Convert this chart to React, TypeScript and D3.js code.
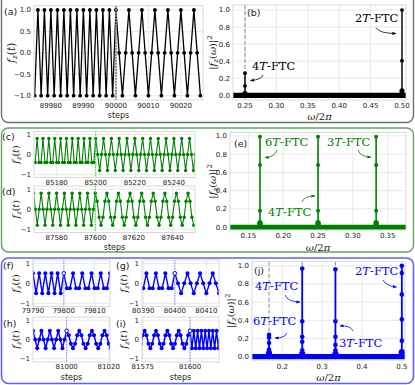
import React from "react";
import * as d3 from "d3";

// ================= DATA =================
// (a) 2T -> 4T
const aStart = 89975;
const aChange = 90000;
const aValues = [
  -1, 1, -1, 1, -1, 1, -1, 1, -1, 1, -1, 1, -1, 1, -1, 1, -1, 1, -1, 1, -1, 1, -1, 1, -1, 1,
  0, -1, 0, 1, 0, -1, 0, 1, 0, -1, 0, 1, 0, -1, 0, 1, 0, -1, 0, 1, 0, -1, 0, 1, 0, -1,
];
const aXTicks = [89980, 89990, 90000, 90010, 90020];
const aYTicks = [-1, -0.5, 0, 0.5, 1];

// (c) 3T -> 4T
const cStart = 85168;
const cChange = 85200;
const cValues = [
  -0.4, -0.4,
  0.8, -0.4, -0.4, 0.8, -0.4, -0.4, 0.8, -0.4, -0.4, 0.8, -0.4, -0.4, 0.8, -0.4, -0.4,
  0.8, -0.4, -0.4, 0.8, -0.4, -0.4, 0.8, -0.4, -0.4, 0.8, -0.4, -0.4, 0.8, -0.4, -0.4,
  0.8,
  0, -0.8, 0, 0.8, 0, -0.8, 0, 0.8, 0, -0.8, 0, 0.8, 0, -0.8, 0, 0.8, 0, -0.8, 0, 0.8, 0, -0.8, 0, 0.8,
  0, -0.8, 0, 0.8, 0, -0.8, 0, 0.8, 0, -0.8, 0, 0.8, 0, -0.8, 0, 0.8, 0, -0.8, 0, 0.8, 0, -0.8, 0, 0.8,
  0, -0.8, 0,
];
const cXTicks = [85180, 85200, 85220, 85240];

// (d) 4T -> 6T
const dStart = 87568;
const dChange = 87600;
const dValues = [
  0.8, 0, -0.8, 0, 0.8, 0, -0.8, 0, 0.8, 0, -0.8, 0, 0.8, 0, -0.8, 0,
  0.8, 0, -0.8, 0, 0.8, 0, -0.8, 0, 0.8, 0, -0.8, 0, 0.8, 0, -0.8, 0,
  0.8,
  0.4, -0.4, -0.8, -0.4, 0.4, 0.8, 0.4, -0.4, -0.8, -0.4, 0.4, 0.8,
  0.4, -0.4, -0.8, -0.4, 0.4, 0.8, 0.4, -0.4, -0.8, -0.4, 0.4, 0.8,
  0.4, -0.4, -0.8, -0.4, 0.4, 0.8, 0.4, -0.4, -0.8, -0.4, 0.4, 0.8,
  0.4, -0.4, -0.8, -0.4, 0.4, 0.8, 0.4, -0.4, -0.8, -0.4, 0.4, 0.8,
  0.4, -0.4, -0.8,
];
const dXTicks = [87580, 87600, 87620, 87640];
const smallYTicks = [-1, 0, 1];

// (f) 2T -> 3T
const fStart = 79790;
const fChange = 79800;
const fValues = [
  0.5, -0.5, 0.5, -0.5, 0.5, -0.5, 0.5, -0.5, 0.5, -0.5, 0.5,
  -0.25, -0.25, 0.5, -0.25, -0.25, 0.5, -0.25, -0.25, 0.5, -0.25, -0.25, 0.5, -0.25, -0.25, 0.5,
];
const fXTicks = [79790, 79800, 79810];

// (g) 3T -> 4T
const gStart = 80389;
const gChange = 80400;
const gValues = [
  -0.25, -0.25, 0.5, -0.25, -0.25, 0.5, -0.25, -0.25, 0.5, -0.25, -0.25, 0.5,
  0, -0.5, 0, 0.5, 0, -0.5, 0, 0.5, 0, -0.5, 0, 0.5, 0, -0.5,
];
const gXTicks = [80390, 80400, 80410];

// (h) 4T -> 6T
const hStart = 80983;
const hChange = 81000;
const hValues = [
  0, 0.45, 0, -0.45, 0, 0.45, 0, -0.45, 0, 0.45, 0, -0.45, 0, 0.45, 0, -0.45, 0, 0.45,
  0.22, -0.22, -0.45, -0.22, 0.22, 0.45, 0.22, -0.22, -0.45, -0.22, 0.22, 0.45,
  0.22, -0.22, -0.45, -0.22, 0.22, 0.45, 0.22, -0.22, -0.45, -0.22,
];
const hXTicks = [81000, 81020];

// (i) 6T -> 2T
const iStart = 81574;
const iChange = 81600;
const iValues = [
  -0.22, 0.22,
  0.45, 0.22, -0.22, -0.45, -0.22, 0.22, 0.45, 0.22, -0.22, -0.45, -0.22, 0.22,
  0.45, 0.22, -0.22, -0.45, -0.22, 0.22, 0.45, 0.22, -0.22, -0.45, -0.22, 0.22,
  0.45,
  -0.45, 0.45, -0.45, 0.45, -0.45, 0.45, -0.45, 0.45, -0.45, 0.45, -0.45, 0.45, -0.45, 0.45, -0.45, 0.45,
];
const iXTicks = [81575, 81600];

// spectra
const specYTicks = [0, 0.2, 0.4, 0.6, 0.8, 1.0];
const bRange = [0.2, 0.52];
const bFreqs = [0.25, 0.5];
const bPeakValues = [[0.02, 0.11, 0.26], [0.02, 0.054, 0.405, 1.0]];
const bDashed = [0.25];
const bXTicks = [0.25, 0.3, 0.35, 0.4, 0.45, 0.5];

const eRange = [0.1, 0.4];
const eFreqs = [1 / 6, 1 / 4, 1 / 3];
const ePeakValues = [
  [0.01, 0.03, 0.05, 0.18, 0.68, 0.99],
  [0.01, 0.03, 0.05, 0.18, 0.68, 0.99],
  [0.01, 0.03, 0.05, 0.18, 0.68, 0.99],
];
const eXTicks = [0.15, 0.2, 0.25, 0.3, 0.35];

const jRange = [0.1, 0.52];
const jFreqs = [1 / 6, 1 / 4, 1 / 3, 1 / 2];
const jPeakValues = [
  [0.02, 0.04, 0.08, 0.15, 0.21, 0.24],
  [0.02, 0.03, 0.07, 0.165, 0.22, 0.39, 0.97],
  [0.02, 0.03, 0.07, 0.13, 0.22, 0.39, 0.96],
  [0.02, 0.03, 0.05, 0.176, 0.41, 0.685, 0.92, 1.0],
];
const jDashed = [1 / 6, 1 / 4, 1 / 3];
const jXTicks = [0.2, 0.3, 0.4, 0.5];

// ================= STYLE =================
const SANS = "DejaVu Sans, sans-serif";
const SERIF = "DejaVu Serif, serif";
const TXT = "#1a1a1a";
const GRID = "#e3e3e3";
const SPINE = "#cfcfcf";
const BLACK = "#000000";
const GREEN = "#008000";
const BLUE = "#0000ff";

type Box = { x0: number; x1: number; y0: number; y1: number };

const fmtMinus = (s: string) => s.replace("-", "\u2212");

function FzLabel({ x, y, size }: { x: number; y: number; size: number }) {
  return (
    <text
      transform={`translate(${x},${y}) rotate(-90)`}
      textAnchor="middle"
      fontFamily={SERIF}
      fontSize={size}
      fill={TXT}
    >
      <tspan fontStyle="italic">f</tspan>
      <tspan fontStyle="italic" fontSize={size * 0.7} dy={size * 0.22}>z</tspan>
      <tspan dy={-size * 0.22}>(</tspan>
      <tspan fontStyle="italic">t</tspan>
      <tspan>)</tspan>
    </text>
  );
}

function SpecYLabel({ x, y, size }: { x: number; y: number; size: number }) {
  return (
    <text
      transform={`translate(${x},${y}) rotate(-90)`}
      textAnchor="middle"
      fontFamily={SERIF}
      fontSize={size}
      fill={TXT}
    >
      <tspan>|</tspan>
      <tspan fontStyle="italic">f</tspan>
      <tspan fontStyle="italic" fontSize={size * 0.7} dy={size * 0.22}>z</tspan>
      <tspan dy={-size * 0.22}>(</tspan>
      <tspan fontStyle="italic">ω</tspan>
      <tspan>)|</tspan>
      <tspan fontSize={size * 0.7} dy={-size * 0.4}>2</tspan>
    </text>
  );
}

function OmegaLabel({ x, y, size }: { x: number; y: number; size: number }) {
  return (
    <text x={x} y={y} textAnchor="middle" fontFamily={SERIF} fontSize={size} fill={TXT}>
      <tspan fontStyle="italic">ω</tspan>
      <tspan>/2</tspan>
      <tspan fontStyle="italic">π</tspan>
    </text>
  );
}

function Frame({ box, x, y, xTicks, yTicks, id }: any) {
  return (
    <g>
      <rect x={box.x0} y={box.y0} width={box.x1 - box.x0} height={box.y1 - box.y0} fill="#ffffff" />
      {xTicks.map((t: number) => (
        <line key={"gx" + t} x1={x(t)} x2={x(t)} y1={box.y0} y2={box.y1} stroke={GRID} strokeWidth={0.8} />
      ))}
      {yTicks.map((t: number) => (
        <line key={"gy" + t} x1={box.x0} x2={box.x1} y1={y(t)} y2={y(t)} stroke={GRID} strokeWidth={0.8} />
      ))}
      <defs>
        <clipPath id={id}>
          <rect x={box.x0} y={box.y0} width={box.x1 - box.x0} height={box.y1 - box.y0} />
        </clipPath>
      </defs>
    </g>
  );
}

function Spines({ box }: { box: Box }) {
  return (
    <rect
      x={box.x0}
      y={box.y0}
      width={box.x1 - box.x0}
      height={box.y1 - box.y0}
      fill="none"
      stroke={SPINE}
      strokeWidth={0.8}
    />
  );
}

function TimeSeries(props: any) {
  const {
    id, box, xDomain, yDomain, yTicks, yFmt, xTicks, start, values, color, change,
    vColor, vDash, vWidth, r, lw, open, label, labelX, labelY, ylabelX, showSteps, stepsY,
    tickSize = 7, ylabSize = 10, xLabOff = 7,
  } = props;
  const x = d3.scaleLinear().domain(xDomain).range([box.x0, box.x1]);
  const y = d3.scaleLinear().domain(yDomain).range([box.y1, box.y0]);
  const pts: [number, number][] = values.map((v: number, i: number) => [start + i, v]);
  const line = d3.line<[number, number]>().x((d) => x(d[0])).y((d) => y(d[1]));
  const changeVal = values[change - start];
  return (
    <g>
      <Frame box={box} x={x} y={y} xTicks={xTicks} yTicks={yTicks} id={id} />
      <g clipPath={`url(#${id})`}>
        <path d={line(pts) || ""} fill="none" stroke={color} strokeWidth={lw} strokeLinejoin="round" />
        {pts.map((p, i) => (
          <circle key={i} cx={x(p[0])} cy={y(p[1])} r={r} fill={color} />
        ))}
        <line
          x1={x(change)} x2={x(change)} y1={box.y0} y2={box.y1}
          stroke={vColor} strokeWidth={vWidth} strokeDasharray={vDash}
        />
        {open && <circle cx={x(change)} cy={y(changeVal)} r={r * 0.9} fill="#ffffff" stroke={color} strokeWidth={0.9} />}
      </g>
      <Spines box={box} />
      {yTicks.map((t: number) => (
        <text key={"ty" + t} x={box.x0 - 3} y={y(t)} dy="0.35em" textAnchor="end" fontFamily={SANS} fontSize={tickSize} fill={TXT}>
          {fmtMinus(yFmt(t))}
        </text>
      ))}
      {xTicks.map((t: number) => (
        <text key={"tx" + t} x={x(t)} y={box.y1 + xLabOff} textAnchor="middle" fontFamily={SANS} fontSize={tickSize} fill={TXT}>
          {t}
        </text>
      ))}
      <FzLabel x={ylabelX} y={(box.y0 + box.y1) / 2} size={ylabSize} />
      {showSteps && (
        <text x={(box.x0 + box.x1) / 2} y={stepsY} textAnchor="middle" fontFamily={SANS} fontSize={8} fill={TXT}>
          steps
        </text>
      )}
      <text x={labelX} y={labelY} fontFamily={SANS} fontSize={9.5} fill={TXT}>{label}</text>
    </g>
  );
}

function Arrow({ d, color, mid }: { d: string; color: string; mid: string }) {
  return <path d={d} fill="none" stroke={color} strokeWidth={0.8} markerEnd={`url(#${mid})`} />;
}

function FTC({ x, y, n, color }: { x: number; y: number; n: string; color: string }) {
  return (
    <text x={x} y={y} fontFamily={SERIF} fontSize={11.5} fill={color}>
      <tspan>{n}</tspan>
      <tspan fontStyle="italic">T</tspan>
      <tspan>-FTC</tspan>
    </text>
  );
}

function Spectrum(props: any) {
  const {
    id, box, xDomain, yDomain, xTicks, xFmt, range, freqs, peaks, dashed, color, r, baseR,
    label, labelX, labelY, ylabelX, omegaY, children, stemW, xLabOff = 8,
  } = props;
  const x = d3.scaleLinear().domain(xDomain).range([box.x0, box.x1]);
  const y = d3.scaleLinear().domain(yDomain).range([box.y1, box.y0]);
  const fmtY = d3.format(".1f");
  return (
    <g>
      <Frame box={box} x={x} y={y} xTicks={xTicks} yTicks={specYTicks} id={id} />
      <g clipPath={`url(#${id})`}>
        {dashed.map((f: number) => (
          <line key={"dl" + f} x1={x(f)} x2={x(f)} y1={box.y0} y2={box.y1} stroke="#8c8c8c" strokeWidth={1} strokeDasharray="4,2" />
        ))}
        <line x1={x(range[0])} x2={x(range[1])} y1={y(0)} y2={y(0)} stroke={color} strokeWidth={baseR * 2} />
        {freqs.map((f: number, k: number) => {
          const vals: number[] = peaks[k];
          const top = d3.max(vals) as number;
          return (
            <g key={"st" + k}>
              <line x1={x(f)} x2={x(f)} y1={y(0)} y2={y(top)} stroke={color} strokeWidth={stemW} />
              {vals.map((v, i) => (
                <circle key={i} cx={x(f)} cy={y(v)} r={v < 0.06 ? r * 1.35 : r} fill={color} />
              ))}
            </g>
          );
        })}
      </g>
      <Spines box={box} />
      {specYTicks.map((t: number) => (
        <text key={"ty" + t} x={box.x0 - 3} y={y(t)} dy="0.35em" textAnchor="end" fontFamily={SANS} fontSize={7} fill={TXT}>
          {fmtY(t)}
        </text>
      ))}
      {xTicks.map((t: number) => (
        <text key={"tx" + t} x={x(t)} y={box.y1 + xLabOff} textAnchor="middle" fontFamily={SANS} fontSize={7} fill={TXT}>
          {xFmt(t)}
        </text>
      ))}
      <SpecYLabel x={ylabelX} y={(box.y0 + box.y1) / 2} size={10} />
      <OmegaLabel x={(box.x0 + box.x1) / 2} y={omegaY} size={10} />
      <text x={labelX} y={labelY} fontFamily={SANS} fontSize={9.5} fill={TXT}>{label}</text>
      {children}
    </g>
  );
}

export default function App() {
  const f1 = d3.format(".1f");
  const f0 = d3.format("d");
  const f2 = d3.format(".2f");
  return (
    <svg width={415} height={385} style={{ position: "absolute", left: 0, top: 0, background: "#fff" }}>
      <defs>
        {[["ahK", BLACK], ["ahG", GREEN], ["ahB", BLUE]].map(([idm, c]) => (
          <marker key={idm} id={idm} viewBox="0 0 10 10" refX="9" refY="5" markerWidth="5" markerHeight="5" orient="auto">
            <path d="M0,1 L10,5 L0,9 z" fill={c} />
          </marker>
        ))}
      </defs>
      <rect x={0} y={0} width={415} height={385} fill="#ffffff" />
      {/* group boxes */}
      <rect x={1.5} y={-10} width={412} height={132.5} rx={7} fill="none" stroke="#6f6f6f" strokeWidth={1.4} />
      <rect x={1.5} y={128} width={412} height={124} rx={7} fill="none" stroke="#5fa55f" strokeWidth={1.4} />
      <rect x={1.5} y={258} width={412} height={125.5} rx={7} fill="none" stroke="#6262f0" strokeWidth={1.6} />

      {/* (a) */}
      <TimeSeries
        id="ca" box={{ x0: 34, x1: 203, y0: 5.7, y1: 100 }} xDomain={[89974.8, 90026.8]} yDomain={[-1.1, 1.1]}
        yTicks={aYTicks} yFmt={f1} xTicks={aXTicks} start={aStart} values={aValues} color={BLACK}
        change={aChange} vColor="#8a8a8a" vDash="2,1" vWidth={2} r={1.9} lw={1.3} open={false}
        label="(a)" labelX={4} labelY={15} ylabelX={15} showSteps stepsY={117.5} ylabSize={10.5} xLabOff={7.5}
      />
      {/* (b) */}
      <Spectrum
        id="cb" box={{ x0: 233, x1: 406, y0: 5, y1: 100 }} xDomain={[0.2309, 0.5064]} yDomain={[-0.055, 1.059]}
        xTicks={bXTicks} xFmt={f2} range={bRange} freqs={bFreqs} peaks={bPeakValues} dashed={bDashed}
        color={BLACK} r={1.9} baseR={2.6} stemW={1.4} label="(b)" labelX={247} labelY={16} ylabelX={215.5} omegaY={120}
        xLabOff={7.5}
      >
        <FTC x={252} y={70} n="4" color={BLACK} />
        <Arrow d="M263,75 Q261,80 250.5,80.5" color={BLACK} mid="ahK" />
        <FTC x={355} y={22} n="2" color={BLACK} />
        <Arrow d="M376,27.5 Q379,33.5 396,33.5" color={BLACK} mid="ahK" />
      </Spectrum>

      {/* (c) */}
      <TimeSeries
        id="cc" box={{ x0: 34, x1: 195, y0: 131.5, y1: 177.5 }} xDomain={[85168.4, 85250.8]} yDomain={[-1.15, 1.15]}
        yTicks={smallYTicks} yFmt={f0} xTicks={cXTicks} start={cStart} values={cValues} color={GREEN}
        change={cChange} vColor="#22dd22" vDash="1.5,1.2" vWidth={1.1} r={1.7} lw={1.1} open={false}
        label="(c)" labelX={2} labelY={140} ylabelX={18.5} showSteps={false} stepsY={0} ylabSize={9.5} xLabOff={7}
      />
      {/* (d) */}
      <TimeSeries
        id="cd" box={{ x0: 34, x1: 195, y0: 186, y1: 232.5 }} xDomain={[87568.3, 87651.6]} yDomain={[-1.16, 1.16]}
        yTicks={smallYTicks} yFmt={f0} xTicks={dXTicks} start={dStart} values={dValues} color={GREEN}
        change={dChange} vColor="#22dd22" vDash="1.5,1.2" vWidth={1.1} r={1.7} lw={1.1} open={false}
        label="(d)" labelX={2} labelY={195} ylabelX={18.5} showSteps stepsY={249.5} ylabSize={9.5} xLabOff={7}
      />
      {/* (e) */}
      <Spectrum
        id="ce" box={{ x0: 230, x1: 406, y0: 132.7, y1: 230 }} xDomain={[0.1237, 0.3762]} yDomain={[-0.03, 1.034]}
        xTicks={eXTicks} xFmt={f2} range={eRange} freqs={eFreqs} peaks={ePeakValues} dashed={[]}
        color={GREEN} r={2} baseR={2.6} stemW={1.6} label="(e)" labelX={234} labelY={147} ylabelX={215.5} omegaY={250.5}
        xLabOff={8}
      >
        <FTC x={265} y={146} n="6" color={GREEN} />
        <Arrow d="M277,150 Q275,157 265,157.5" color={GREEN} mid="ahG" />
        <FTC x={327} y={146} n="3" color={GREEN} />
        <Arrow d="M358,150 Q360,157 371,157" color={GREEN} mid="ahG" />
        <FTC x={268} y={216} n="4" color={GREEN} />
        <Arrow d="M302,202 Q304,196 315,196" color={GREEN} mid="ahG" />
      </Spectrum>

      {/* (f) */}
      <TimeSeries
        id="cf" box={{ x0: 33, x1: 110, y0: 260, y1: 306.7 }} xDomain={[79790, 79815]} yDomain={[-1.165, 1.165]}
        yTicks={smallYTicks} yFmt={f0} xTicks={fXTicks} start={fStart} values={fValues} color={BLUE}
        change={fChange} vColor="#8c8cff" vDash="1.5,1.2" vWidth={1.1} r={2} lw={1.4} open
        label="(f)" labelX={3} labelY={269} ylabelX={18.5} showSteps={false} stepsY={0} ylabSize={9.5} xLabOff={6.5}
      />
      {/* (g) */}
      <TimeSeries
        id="cg" box={{ x0: 142, x1: 219, y0: 260, y1: 306.7 }} xDomain={[80389.6, 80414]} yDomain={[-1.165, 1.165]}
        yTicks={smallYTicks} yFmt={f0} xTicks={gXTicks} start={gStart} values={gValues} color={BLUE}
        change={gChange} vColor="#8c8cff" vDash="1.5,1.2" vWidth={1.1} r={2} lw={1.4} open
        label="(g)" labelX={116} labelY={269} ylabelX={126.5} showSteps={false} stepsY={0} ylabSize={9.5} xLabOff={6.5}
      />
      {/* (h) */}
      <TimeSeries
        id="ch" box={{ x0: 33, x1: 110, y0: 317, y1: 362 }} xDomain={[80984, 81020.6]} yDomain={[-1.17, 1.17]}
        yTicks={smallYTicks} yFmt={f0} xTicks={hXTicks} start={hStart} values={hValues} color={BLUE}
        change={hChange} vColor="#8c8cff" vDash="1.5,1.2" vWidth={1.1} r={2} lw={1.4} open
        label="(h)" labelX={3} labelY={327} ylabelX={18.5} showSteps stepsY={379.5} ylabSize={9.5} xLabOff={6.5}
      />
      {/* (i) */}
      <TimeSeries
        id="ci" box={{ x0: 142, x1: 219, y0: 317, y1: 362 }} xDomain={[81574.6, 81615.3]} yDomain={[-1.17, 1.17]}
        yTicks={smallYTicks} yFmt={f0} xTicks={iXTicks} start={iStart} values={iValues} color={BLUE}
        change={iChange} vColor="#8c8cff" vDash="1.5,1.2" vWidth={1.1} r={2} lw={1.4} open
        label="(i)" labelX={116} labelY={327} ylabelX={126.5} showSteps stepsY={379.5} ylabSize={9.5} xLabOff={6.5}
      />
      {/* (j) */}
      <Spectrum
        id="cj" box={{ x0: 252, x1: 405, y0: 261.7, y1: 360 }} xDomain={[0.1239, 0.508]} yDomain={[-0.036, 1.044]}
        xTicks={jXTicks} xFmt={f1} range={jRange} freqs={jFreqs} peaks={jPeakValues} dashed={jDashed}
        color={BLUE} r={2.3} baseR={2.6} stemW={1.8} label="(j)" labelX={254} labelY={274} ylabelX={233.5} omegaY={380.5}
        xLabOff={8.5}
      >
        <FTC x={355} y={275} n="2" color={BLUE} />
        <Arrow d="M383,280 Q386,286 396.5,287" color={BLUE} mid="ahB" />
        <FTC x={255} y={289.5} n="4" color={BLUE} />
        <Arrow d="M285,295 Q288,302 300,302" color={BLUE} mid="ahB" />
        <FTC x={253} y={324.5} n="6" color={BLUE} />
        <Arrow d="M287,333 Q285,338 275,338" color={BLUE} mid="ahB" />
        <FTC x={339} y={347} n="3" color={BLUE} />
        <Arrow d="M353,331 Q350,325 340,326" color={BLUE} mid="ahB" />
      </Spectrum>
    </svg>
  );
}
